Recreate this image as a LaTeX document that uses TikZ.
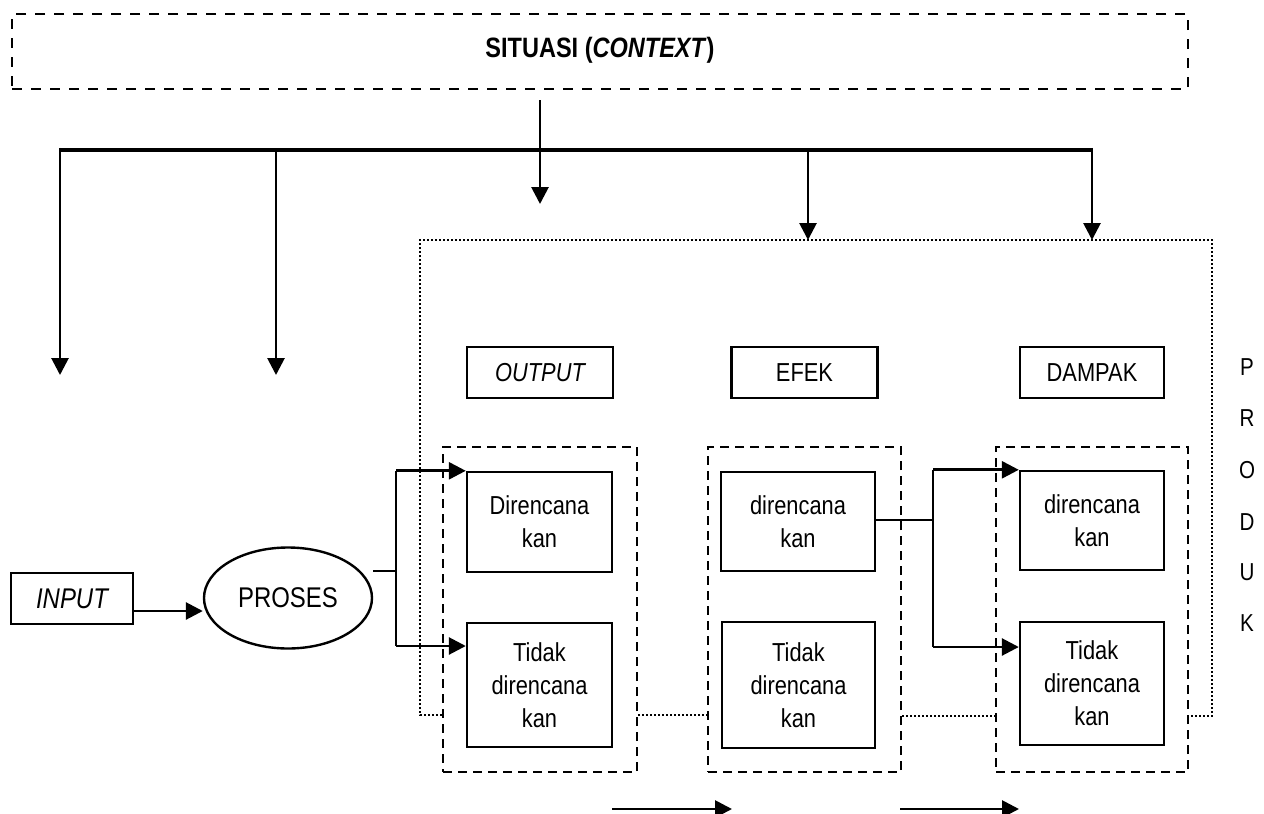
\documentclass[tikz,border=0pt]{standalone}
\usepackage{fontspec}
\setmainfont{Liberation Sans}[FakeStretch=0.84]
\usetikzlibrary{shapes.geometric,arrows.meta}
\begin{document}
\begin{tikzpicture}[x=1pt,y=-1pt,
  base/.style={inner sep=0pt, align=center, font=\fontsize{26}{33}\selectfont},
  solidbox/.style={base, draw, line width=2.4pt},
  hdrbox/.style={solidbox, minimum width=146pt, minimum height=51pt},
  dashbox/.style={draw, line width=2.6pt, dash pattern=on 9pt off 6pt},
  ctxbox/.style={draw, line width=2.8pt, dash pattern=on 10pt off 9pt, inner sep=0pt},
  dotline/.style={line width=2.6pt, dash pattern=on 2pt off 2pt},
  wire/.style={line width=2.8pt},
  bus/.style={line width=4.4pt},
  arr/.style={line width=2.8pt, -{Triangle[length=17pt,width=17pt]}},
  letter/.style={inner sep=0pt, font=\fontsize{24.5}{28}\selectfont}
]
\useasboundingbox (0,0) rectangle (1264,814);

% context box
\node[ctxbox, minimum width=1176pt, minimum height=75pt,
  label={[font=\fontsize{28}{32}\selectfont\bfseries, yshift=1pt]center:SITUASI (\textit{CONTEXT})}]
  (ctx) at (600,51.5) {};

% input and process
\node[solidbox, minimum width=122pt, minimum height=51pt, font=\fontsize{28.5}{32}\selectfont\itshape] (inp) at (72,598.5) {INPUT};
\node[base, draw, ellipse, line width=2.4pt, minimum width=168pt, minimum height=101pt, font=\fontsize{28.5}{32}\selectfont] (pro) at (288,598) {PROSES};

% header boxes
\node[hdrbox, font=\fontsize{26}{33}\selectfont\itshape] (out) at (540,372.5) {OUTPUT};
\node[hdrbox] (efek) at (804.5,372.5) {EFEK};
\node[hdrbox, minimum width=144pt] (dampak) at (1092,372.5) {DAMPAK};

% dashed group boxes
\node[dashbox, minimum width=194pt, minimum height=325pt] (d1) at (540,609.5) {};
\node[dashbox, minimum width=193pt, minimum height=325pt] (d2) at (804.5,609.5) {};
\node[dashbox, minimum width=192pt, minimum height=325pt] (d3) at (1092,609.5) {};

% inner boxes
\node[solidbox, minimum width=145pt, minimum height=100pt] (o1) at (539.5,522) {Direncana\\kan};
\node[solidbox, minimum width=145pt, minimum height=124pt] (o2) at (539.5,685) {Tidak\\direncana\\kan};
\node[solidbox, minimum width=154pt, minimum height=99pt] (e1) at (798,521.5) {direncana\\kan};
\node[solidbox, minimum width=153pt, minimum height=126pt] (e2) at (798.5,685) {Tidak\\direncana\\kan};
\node[solidbox, minimum width=144pt, minimum height=99pt] (p1) at (1092,520.5) {direncana\\kan};
\node[solidbox, minimum width=144pt, minimum height=123pt] (p2) at (1092,683.5) {Tidak\\direncana\\kan};

% PRODUK letters
\node[letter] (lP) at (1247,367) {P};
\node[letter] (lR) at (1247,418) {R};
\node[letter] (lO) at (1247,470) {O};
\node[letter] (lD) at (1247,522) {D};
\node[letter] (lU) at (1247,572) {U};
\node[letter] (lK) at (1247,623) {K};

% coordinates
\coordinate (busL) at (60,150);
\coordinate (busR) at (1092,150);
\coordinate (ctxS) at (540,100);
\coordinate (ctxE) at (540,204);
\coordinate (b1) at (60,375);
\coordinate (b2) at (276,375);
\coordinate (pTL) at (420,240);
\coordinate (pTR) at (1212,240);
\coordinate (pBL) at (420,715);
\coordinate (pBR) at (1212,716);
\coordinate (fork1) at (396,571);
\coordinate (fork2) at (933,520);
\coordinate (ar1s) at (612,809);
\coordinate (ar1e) at (732,809);
\coordinate (ar2s) at (900,809);
\coordinate (ar2e) at (1019,809);

% dotted product frame
\draw[dotline] (pBL -| d1.west) -- (pBL) -- (pTL) -- (pTR) -- (pBR) -- (pBR -| d3.east);
\draw[dotline] (pBL -| d1.east) -- (pBL -| d2.west);
\draw[dotline] (pBR -| d2.east) -- (pBR -| d3.west);

% context distribution
\draw[bus] (busL) -- (busR);
\draw[arr] (ctxS) -- (ctxE);
\draw[arr] ([yshift=2.2pt]busL) -- (b1);
\draw[arr] (busL -| b2) -- (b2);
\draw[arr] (busL -| 808,0) -- (pTL -| 808,0);
\draw[arr] ([yshift=2.2pt]busR) -- (pTR -| busR);

% input -> process
\draw[arr] (inp.east |- 0,611) -- (pro.west |- 0,611);

% process -> output boxes
\draw[wire] ([yshift=27pt]pro.east) -- (fork1);
\draw[wire] (fork1 |- o1.north) -- (fork1 |- 0,646);
\draw[arr] (fork1 |- o1.north) -- (o1.north west);
\draw[arr] (fork1 |- 0,646) -- (o2.west |- 0,646);

% efek -> dampak
\draw[wire] (e1.east |- fork2) -- (fork2);
\draw[wire] (fork2 |- p1.north) -- (fork2 |- 0,647);
\draw[arr] (fork2 |- p1.north) -- (p1.north west);
\draw[arr] (fork2 |- 0,647) -- (p2.west |- 0,647);

% bottom arrows
\draw[arr] (ar1s) -- (ar1e);
\draw[arr] (ar2s) -- (ar2e);
\end{tikzpicture}
\end{document}
